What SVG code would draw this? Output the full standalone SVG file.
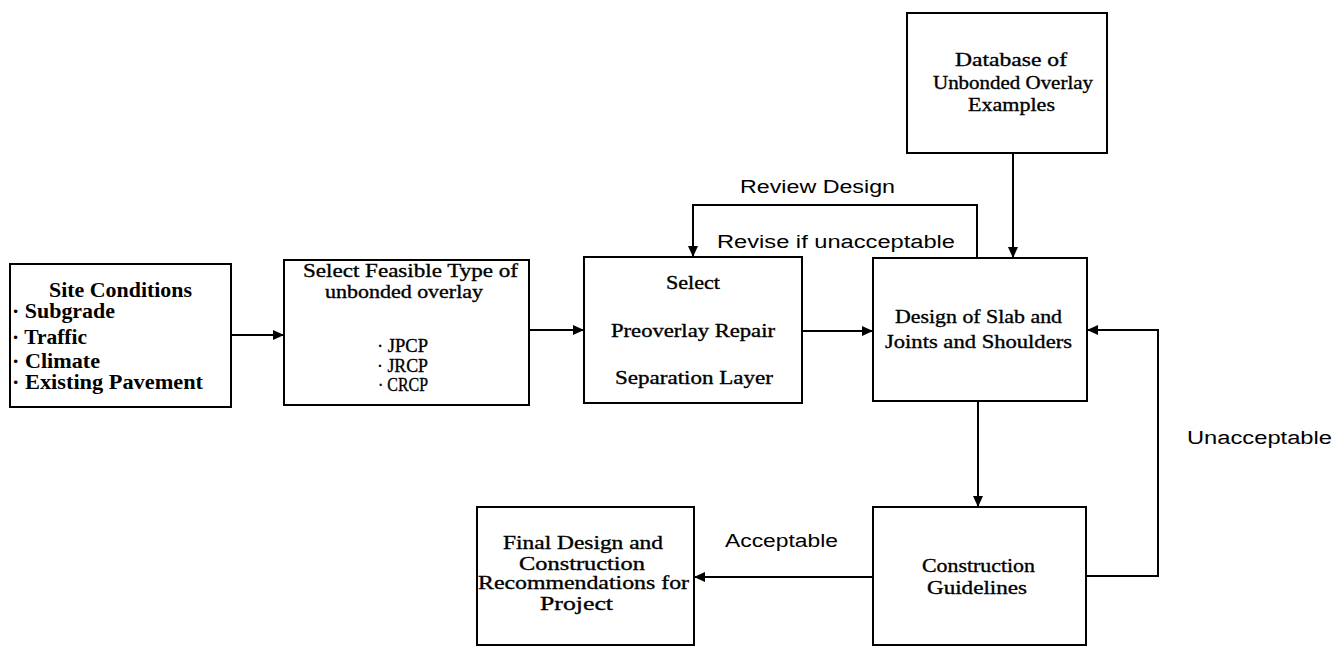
<svg xmlns="http://www.w3.org/2000/svg" width="1335" height="648" viewBox="0 0 1335 648">
<style>
.box{fill:#fff;stroke:#000;stroke-width:2}
.ln{fill:none;stroke:#000;stroke-width:2}
.sf{font-family:"Liberation Serif","Times New Roman",serif;font-size:19px;fill:#000;stroke:#000;stroke-width:0.35}
.sb{font-family:"Liberation Serif","Times New Roman",serif;font-size:20px;font-weight:bold;fill:#000}
.ss{font-family:"Liberation Sans",Arial,sans-serif;font-size:18px;fill:#000}
</style>
<defs>
<marker id="ah" markerUnits="userSpaceOnUse" markerWidth="12" markerHeight="10" refX="11" refY="5" orient="auto">
<path d="M0,0 L11,5 L0,10 Z" fill="#000"/>
</marker>
</defs>
<rect width="1335" height="648" fill="#fff"/>
<g id="connectors">
<line class="ln" x1="230" y1="335" x2="284" y2="335" marker-end="url(#ah)"/>
<line class="ln" x1="529" y1="330" x2="584" y2="330" marker-end="url(#ah)"/>
<line class="ln" x1="802" y1="331" x2="873" y2="331" marker-end="url(#ah)"/>
<line class="ln" x1="1013" y1="153" x2="1013" y2="258" marker-end="url(#ah)"/>
<polyline class="ln" points="977,258 977,205 693,205 693,257" marker-end="url(#ah)"/>
<line class="ln" x1="978" y1="401" x2="978" y2="507" marker-end="url(#ah)"/>
<line class="ln" x1="873" y1="577" x2="694" y2="577" marker-end="url(#ah)"/>
<polyline class="ln" points="1086,576 1158,576 1158,330 1087,330" marker-end="url(#ah)"/>
<text class="ss" x="740" y="193" textLength="155" lengthAdjust="spacingAndGlyphs">Review Design</text>
<text class="ss" x="717" y="248" textLength="238" lengthAdjust="spacingAndGlyphs">Revise if unacceptable</text>
<text class="ss" x="725" y="547" textLength="113" lengthAdjust="spacingAndGlyphs">Acceptable</text>
<text class="ss" x="1187" y="444" textLength="145" lengthAdjust="spacingAndGlyphs">Unacceptable</text>
</g>
<g id="site">
<rect class="box" x="10" y="264" width="221" height="143"/>
<text class="sb" x="49" y="297" textLength="143" lengthAdjust="spacingAndGlyphs">Site Conditions</text>
<text class="sb" x="12" y="318" textLength="103" lengthAdjust="spacingAndGlyphs">· Subgrade</text>
<text class="sb" x="12" y="344" textLength="75" lengthAdjust="spacingAndGlyphs">· Traffic</text>
<text class="sb" x="12" y="368" textLength="88" lengthAdjust="spacingAndGlyphs">· Climate</text>
<text class="sb" x="12" y="389" textLength="191" lengthAdjust="spacingAndGlyphs">· Existing  Pavement</text>
</g>
<g id="feasible">
<rect class="box" x="284" y="260" width="245" height="145"/>
<text class="sf" x="303" y="277" font-size="18" textLength="215" lengthAdjust="spacingAndGlyphs">Select Feasible Type of</text>
<text class="sf" x="325" y="298" font-size="18" textLength="158" lengthAdjust="spacingAndGlyphs">unbonded overlay</text>
<text class="sf" x="377" y="352" textLength="51" lengthAdjust="spacingAndGlyphs">· JPCP</text>
<text class="sf" x="377" y="372" textLength="51" lengthAdjust="spacingAndGlyphs">· JRCP</text>
<text class="sf" x="378" y="391" textLength="50" lengthAdjust="spacingAndGlyphs">· CRCP</text>
</g>
<g id="preoverlay">
<rect class="box" x="584" y="257" width="218" height="146"/>
<text class="sf" x="666" y="289" textLength="54" lengthAdjust="spacingAndGlyphs">Select</text>
<text class="sf" x="611" y="337" textLength="164" lengthAdjust="spacingAndGlyphs">Preoverlay Repair</text>
<text class="sf" x="615" y="384" textLength="158" lengthAdjust="spacingAndGlyphs">Separation Layer</text>
</g>
<g id="database">
<rect class="box" x="907" y="13" width="200" height="140"/>
<text class="sf" x="955" y="66" textLength="112" lengthAdjust="spacingAndGlyphs">Database of</text>
<text class="sf" x="933" y="89" textLength="160" lengthAdjust="spacingAndGlyphs">Unbonded Overlay</text>
<text class="sf" x="968" y="111" textLength="87" lengthAdjust="spacingAndGlyphs">Examples</text>
</g>
<g id="design">
<rect class="box" x="873" y="258" width="214" height="143"/>
<text class="sf" x="895" y="323" textLength="167" lengthAdjust="spacingAndGlyphs">Design of Slab and</text>
<text class="sf" x="885" y="348" textLength="187" lengthAdjust="spacingAndGlyphs">Joints and Shoulders</text>
</g>
<g id="construction">
<rect class="box" x="873" y="507" width="213" height="138"/>
<text class="sf" x="922" y="572" textLength="113" lengthAdjust="spacingAndGlyphs">Construction</text>
<text class="sf" x="927" y="594" textLength="100" lengthAdjust="spacingAndGlyphs">Guidelines</text>
</g>
<g id="final">
<rect class="box" x="477" y="507" width="217" height="138"/>
<text class="sf" x="503" y="549" textLength="160" lengthAdjust="spacingAndGlyphs">Final Design and</text>
<text class="sf" x="519" y="570" textLength="126" lengthAdjust="spacingAndGlyphs">Construction</text>
<text class="sf" x="478" y="589" textLength="211" lengthAdjust="spacingAndGlyphs">Recommendations for</text>
<text class="sf" x="540" y="610" textLength="73" lengthAdjust="spacingAndGlyphs">Project</text>
</g>
</svg>
